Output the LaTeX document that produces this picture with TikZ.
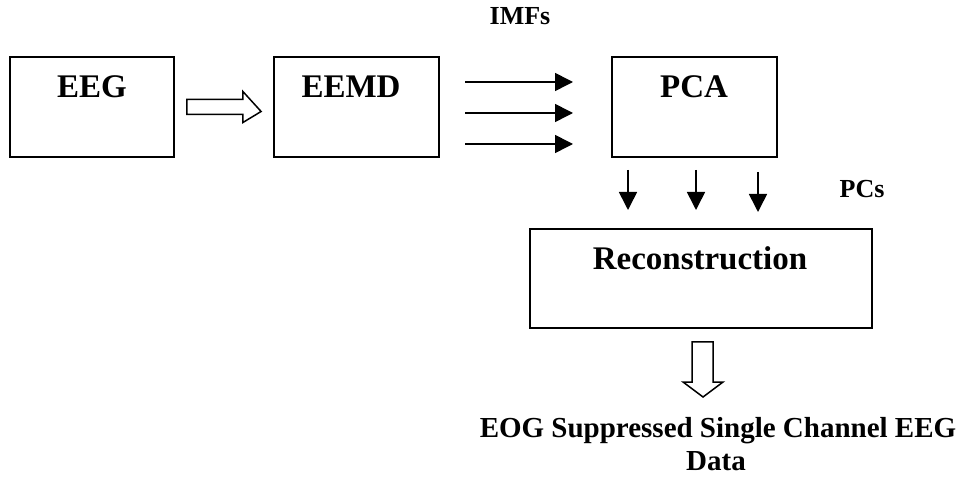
\documentclass[tikz,border=0pt]{standalone}
\usepackage{fontspec}
\setmainfont{Liberation Serif}
\usetikzlibrary{arrows.meta,calc}

\tikzset{
  stagebox/.style={draw=black, line width=1.8pt, inner sep=0pt},
  boxtext/.style={font=\fontsize{33}{40}\selectfont\bfseries, anchor=base, inner sep=0pt},
  sidetext/.style={font=\fontsize{26}{31}\selectfont\bfseries, anchor=base, inner sep=0pt},
  outtext/.style={font=\fontsize{29}{36}\selectfont\bfseries, anchor=base, inner sep=0pt},
  flow/.style={line width=1.6pt, -{Triangle[length=18pt,width=18pt]}},
  hollow/.style={draw=black, line width=1.5pt, fill=white, line join=miter},
}

\begin{document}
\begin{tikzpicture}[x=1pt, y=1pt]
\useasboundingbox (0,0) rectangle (956,477);

% processing stages
\node[stagebox, minimum width=164pt, minimum height=100pt] (eeg)  at (92,370) {};
\node[stagebox, minimum width=165pt, minimum height=100pt] (eemd) at (356.5,370) {};
\node[stagebox, minimum width=165pt, minimum height=100pt] (pca)  at (694.5,370) {};
\node[stagebox, minimum width=342pt, minimum height=99pt]  (rec)  at (701,198.5) {};

% stage titles
\node[boxtext] (eegt)  at (92,379)  {EEG};
\node[boxtext] (eemdt) at (351,379) {EEMD};
\node[boxtext] (pcat)  at (694,379) {PCA};
\node[boxtext] (rect)  at (700,207) {Reconstruction};

% side labels
\node[sidetext] (imfs) at (520,452) {IMFs};
\node[sidetext] (pcs)  at (862,279) {PCs};

% output description
\node[outtext] (out1) at (718,40) {EOG Suppressed Single Channel EEG};
\node[outtext] (out2) at (716,7)  {Data};

% hollow arrow EEG -> EEMD
\path (eeg.east) ++(12,0) coordinate (ha);
\draw[hollow] ($(ha)+(0,7.5)$) -- ++(56,0) -- ++(0,8) -- ($(eemd.west)+(-12,-4.5)$)
  -- ($(ha)+(56,-15.5)$) -- ++(0,8) -- ++(-56,0) -- cycle;

% IMF arrows EEMD -> PCA
\coordinate (i1s) at (465,395); \coordinate (i1e) at (573,395);
\coordinate (i2s) at (465,364); \coordinate (i2e) at (573,364);
\coordinate (i3s) at (465,333); \coordinate (i3e) at (573,333);
\draw[flow] (i1s) -- (i1e);
\draw[flow] (i2s) -- (i2e);
\draw[flow] (i3s) -- (i3e);

% PC arrows PCA -> Reconstruction
\coordinate (p1s) at (628,307); \coordinate (p1e) at (628,267);
\coordinate (p2s) at (696,307); \coordinate (p2e) at (696,267);
\coordinate (p3s) at (758,305); \coordinate (p3e) at (758,265);
\draw[flow] (p1s) -- (p1e);
\draw[flow] (p2s) -- (p2e);
\draw[flow] (p3s) -- (p3e);

% hollow arrow Reconstruction -> output
\coordinate (hd) at (703,135);
\draw[hollow] ($(hd)+(-11,0)$) -- ($(hd)+(10,0)$) -- ($(hd)+(10,-40)$) -- ($(hd)+(20,-40)$)
  -- ($(hd)+(0,-55)$) -- ($(hd)+(-20,-40)$) -- ($(hd)+(-11,-40)$) -- cycle;
\end{tikzpicture}
\end{document}
